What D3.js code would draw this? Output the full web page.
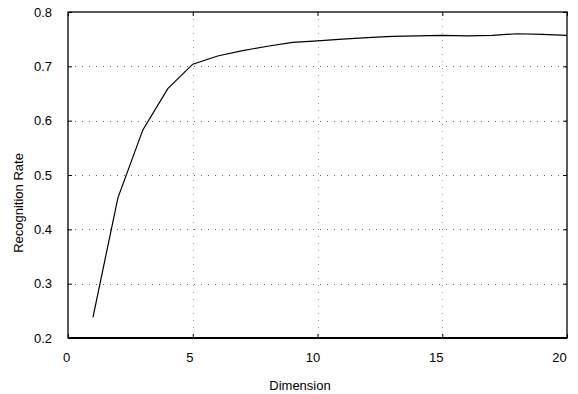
<!DOCTYPE html>
<html><head><meta charset="utf-8">
<script src="https://cdn.jsdelivr.net/npm/d3@7"></script>
<style>body{margin:0;background:#fff}svg{display:block}text{font-family:"Liberation Sans",Arial,sans-serif;fill:#000}</style>
</head><body><svg id="c" width="578" height="394"></svg>
<script>
const dims = [1,2,3,4,5,6,7,8,9,10,11,12,13,14,15,16,17,18,19,20];
const rates = [0.238,0.458,0.583,0.659,0.704,0.719,0.729,0.737,0.744,0.747,0.750,0.753,0.755,0.756,0.757,0.756,0.757,0.760,0.759,0.757];
const xTicks = [0,5,10,15,20];
const yTicks = [0.2,0.3,0.4,0.5,0.6,0.7,0.8];
const xLabel = "Dimension", yLabel = "Recognition Rate";

const L=68,R=567,T=12,B=338;
const svg=d3.select("#c");
const x=d3.scaleLinear().domain([0,20]).range([L,R]);
const y=d3.scaleLinear().domain([0.2,0.8]).range([B,T]);

// grid
const g=svg.append("g");
g.selectAll(".gx").data(xTicks.slice(1,-1)).join("line")
 .attr("x1",d=>Math.round(x(d))+0.5).attr("x2",d=>Math.round(x(d))+0.5).attr("y1",T).attr("y2",B)
 .attr("stroke","#999").attr("stroke-dasharray","1,6");
g.selectAll(".gy").data(yTicks.slice(1,-1)).join("line")
 .attr("y1",d=>Math.round(y(d))+0.5).attr("y2",d=>Math.round(y(d))+0.5).attr("x1",L).attr("x2",R)
 .attr("stroke","#666").attr("stroke-dasharray","1,6");

// axes with inward ticks
const ax=d3.axisBottom(x).tickValues(xTicks).tickSize(-4).tickPadding(15).tickFormat(d3.format("d"));
const axT=d3.axisTop(x).tickValues(xTicks).tickSize(-4).tickFormat("");
const ay=d3.axisLeft(y).tickValues(yTicks).tickSize(-4).tickPadding(16).tickFormat(d3.format(".1f"));
const ayR=d3.axisRight(y).tickValues(yTicks).tickSize(-4).tickFormat("");
function style(sel){sel.select(".domain").remove();sel.selectAll("text").style("font-size","13px").attr("fill","#000");sel.selectAll("line").attr("stroke","#000");}
svg.append("g").attr("transform",`translate(0,${B})`).call(ax).call(style)
 .selectAll("text").attr("dx",d=>-2-0.3*d);
svg.append("g").attr("transform",`translate(0,${T})`).call(axT).call(style);
svg.append("g").attr("transform",`translate(${L},0)`).call(ay).call(style)
 .selectAll("text").attr("dy","0.62em").attr("y",-4);
svg.append("g").attr("transform",`translate(${R},0)`).call(ayR).call(style);

// frame
svg.append("rect").attr("x",L).attr("y",T).attr("width",R-L).attr("height",B-T).attr("fill","none").attr("stroke","#000").attr("stroke-width",1.3);
svg.append("line").attr("x1",L).attr("x2",R).attr("y1",B).attr("y2",B).attr("stroke","#000").attr("stroke-width",2.2);

// line
svg.append("path").datum(dims.map((d,i)=>[d,rates[i]]))
 .attr("d",d3.line().x(d=>x(d[0])).y(d=>y(d[1])))
 .attr("fill","none").attr("stroke","#000").attr("stroke-width",1.2);

svg.append("text").attr("x",300).attr("y",390).attr("text-anchor","middle").style("font-size","13px").text(xLabel);
svg.append("text").attr("transform",`translate(23,203) rotate(-90)`).attr("text-anchor","middle").style("font-size","13px").text(yLabel);
</script></body></html>
